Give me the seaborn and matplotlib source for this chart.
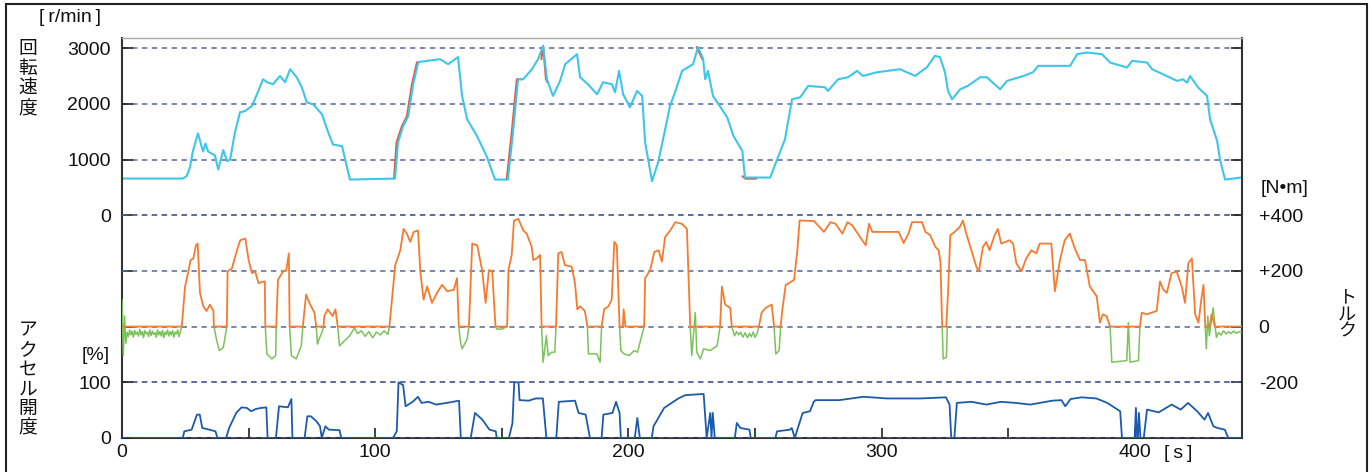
import numpy as np
import pandas as pd
import seaborn as sns
import matplotlib.pyplot as plt
from matplotlib.patches import Rectangle

# engine speed [r/min] (cyan trace)
rpm_t = [0, 24, 25.5, 26.8, 28, 30, 32, 33, 34, 36.7, 38, 40, 41.5, 42.7, 44.6, 46.6, 48.6, 51.3,
         53.3, 55.7, 57.3, 59.6, 62.4, 64.4, 66.4, 69, 71, 73, 75.5, 79, 81, 83.3, 86.9, 90, 107.8,
         109, 111, 113, 115, 117, 120.4, 125.6, 128.8, 132.7, 134.3, 136.3, 140.2, 144, 147.3,
         152.4, 154.4, 156.4, 158.4, 161.9, 164.3, 166.3, 167.8, 170.2, 173, 175, 179.7, 180.9,
         184, 187.6, 190, 193.5, 194.7, 196.3, 197.9, 200.6, 203.4, 205.4, 206.6, 209.3, 211.7,
         214.5, 216.4, 218.4, 221.2, 225.5, 227.5, 229.5, 230.3, 231.4, 233.4, 239, 241.5, 245,
         246, 256, 258.7, 261.8, 264.6, 267.8, 271, 277.6, 278.8, 282.8, 286.7, 290.3, 292.6,
         298.2, 307.3, 313.2, 317.9, 321, 323, 325, 326.2, 327.8, 331, 334, 338.9, 341.5, 346.8,
         349.5, 356, 359.8, 361.8, 374.4, 377.2, 381, 387, 390.2, 396.9, 398.9, 404.8, 406.8,
         411, 416.7, 419, 420.6, 421.8, 425, 428.5, 429.7, 432.5, 433.6, 435.6, 442]
rpm_v = [658, 658, 700, 850, 1150, 1468, 1144, 1288, 1144, 1072, 820, 1168, 970, 1000, 1486, 1847,
         1870, 1960, 2171, 2441, 2387, 2351, 2500, 2387, 2621, 2477, 2297, 2027, 1991, 1810, 1540,
         1270, 1240, 640, 658, 1306, 1595, 1775, 2351, 2748, 2771, 2801, 2711, 2838, 2141, 1721,
         1420, 1060, 640, 640, 1486, 2441, 2441, 2621, 2801, 3041, 2441, 2141, 2411, 2711, 2891,
         2477, 2351, 2171, 2387, 2351, 2207, 2591, 2171, 1937, 2231, 2141, 1306, 609, 946, 1540,
         1960, 2207, 2591, 2711, 3018, 2801, 2441, 2591, 2141, 1757, 1420, 1150, 676, 676, 1000,
         1360, 2081, 2117, 2321, 2297, 2231, 2441, 2477, 2591, 2500, 2567, 2621, 2500, 2657, 2861,
         2838, 2567, 2231, 2081, 2261, 2321, 2477, 2477, 2261, 2411, 2500, 2567, 2681, 2681, 2891,
         2921, 2891, 2741, 2651, 2771, 2741, 2621, 2531, 2411, 2441, 2381, 2500, 2291, 2141, 1721,
         1330, 1000, 640, 676]

# second speed trace (red) - only the bits that show from under the cyan one
red_segs = [
    ([107.4, 108.4, 110.5, 112.5, 114.5, 116.5], [658, 1306, 1595, 1775, 2351, 2748]),
    ([151.9, 153.9, 155.9, 157.8], [640, 1486, 2441, 2441]),
    ([165.6, 166.3, 167.4, 168.1], [2801, 3041, 2441, 2380]),
    ([226.9, 227.6, 229.2], [3018, 2950, 2801]),
    ([245.0, 246.2, 250.5], [700, 655, 655]),
]

# torque [N·m] (orange trace)
trq_t = [0, 23.6, 24.9, 26.2, 27.1, 28.2, 29.2, 29.9, 30.8, 32.1, 33.4, 34.7, 36.1, 36.3, 41.4, 41.7,
         43.4, 45.4, 46.7, 48.7, 50.0, 51.3, 52.6, 53.9, 55.9, 56.4, 56.6, 60.9, 61.6, 63.6, 64.9,
         65.9, 66.2, 71.4, 72.7, 74.0, 76.0, 76.7, 79.6, 79.9, 81.2, 83.2, 84.3, 85.2, 105.6, 106.6,
         107.9, 109.9, 111.2, 112.5, 113.8, 115.2, 116.9, 117.8, 119.1, 120.5, 122.4, 124.4, 126.4,
         128.4, 131.0, 132.3, 133.0, 137.0, 138.3, 140.3, 142.2, 143.6, 144.9, 146.2, 147.5, 152.1,
         152.6, 153.9, 154.8, 156.5, 158.5, 159.8, 161.8, 162.4, 163.8, 165.1, 165.7, 171.4, 172.3,
         173.6, 174.9, 177.6, 178.9, 179.8, 180.9, 182.8, 183.8, 189.4, 190.4, 192.1, 193.4, 194.4,
         195.4, 196.5, 197.8, 198.1, 198.8, 206.2, 206.6, 208.6, 210.2, 211.9, 213.2, 214.5, 216.5,
         218.5, 221.1, 223.1, 224.4, 236.2, 236.9, 238.2, 240.2, 240.8, 251.5, 252.6, 254.2, 256.6,
         257.5, 260.1, 260.8, 262.1, 263.4, 265.4, 266.7, 267.6, 273.3, 277.2, 279.8, 281.8, 284.5,
         286.5, 288.4, 291.0, 293.7, 295.0, 296.3, 301.4, 306.7, 308.7, 310.6, 312.0, 315.9, 317.3,
         319.2, 321.2, 322.5, 323.2, 323.9, 325.5, 326.2, 327.1, 328.8, 330.8, 332.1, 333.4, 335.4,
         337.4, 338.4, 340.0, 341.3, 342.6, 344.6, 345.9, 347.2, 350.5, 351.9, 353.2, 355.2, 357.1,
         359.1, 361.1, 362.4, 367.0, 368.4, 370.4, 372.3, 374.3, 376.3, 378.3, 380.3, 382.2, 384.9,
         386.2, 387.3, 388.8, 390.2, 402.0, 402.7, 404.6, 408.6, 409.9, 411.3, 412.6, 414.5, 416.5,
         418.5, 419.8, 421.1, 422.5, 423.8, 425.1, 426.4, 427.1, 427.8, 429.5, 430.3, 431.6, 442]
trq_v = [0, 0, 144, 198, 239, 245, 292, 298, 121, 73, 56, 79, 56, 0, 0, 198,
         209, 274, 310, 316, 239, 192, 198, 156, 162, 162, 0, 0, 168, 198, 203,
         263, 0, 0, 115, 85, 50, 0, 0, 38, 62, 38, 62, 0, 0, 97,
         221, 274, 351, 334, 304, 340, 345, 198, 97, 144, 85, 121, 150,
         127, 132, 174, 0, 0, 298, 292, 203, 85, 203, 198, 0, 0,
         203, 257, 381, 387, 345, 334, 286, 239, 245, 257, 0, 0, 263,
         268, 221, 215, 156, 62, 73, 56, 0, 0, 62, 73, 97, 304,
         292, 0, 0, 62, 0, 0, 174, 203, 268, 274, 233, 322, 345,
         375, 369, 351, 0, 0, 144, 79, 67, 0, 0, 50, 67, 79,
         0, 0, 62, 150, 156, 168, 274, 381, 379, 340, 375, 369, 334,
         375, 363, 328, 292, 369, 340, 340, 340, 300, 334, 375, 375, 340,
         328, 286, 274, 233, 0, 0, 121, 328, 340, 357, 381, 334, 274,
         215, 198, 286, 304, 274, 328, 351, 298, 310, 298, 227, 198, 245,
         274, 263, 298, 298, 127, 239, 310, 334, 280, 239, 239, 144, 109,
         14, 44, 38, 0, 0, 50, 44, 56, 162, 132, 121, 192, 198,
         144, 85, 227, 245, 44, 14, 109, 150, 0, 0, 44, 0, 0]

# second torque trace (green) - only where it leaves the orange one
green_segs = [
    ([0, 0.5, 1.0, 1.5, 2.0, 2.5, 3.0, 3.5, 4.0, 4.5, 5.0, 5.5, 6.0, 6.5, 7.0, 7.5, 8.0, 8.5, 9.0,
      9.5, 10.0, 10.5, 11.0, 11.5, 12.0, 12.5, 13.0, 13.5, 14.0, 14.5, 15.0, 15.5, 16.0, 16.5, 17.0,
      17.5, 18.0, 18.5, 19.0, 19.5, 20.0, 20.5, 21.0, 21.5, 22.0, 22.5, 23.0, 23.6],
     [97, -104, 38, -60, -20, -36, -12, -30, -16, -38, -14, -28, -20, -34, -10, -30, -18, -40, -14,
      -26, -20, -36, -12, -32, -16, -28, -22, -38, -12, -30, -18, -34, -14, -40, -20, -28, -12, -34,
      -18, -30, -14, -38, -20, -26, -12, -36, -20, 0]),
    ([36.3, 37.3, 38.4, 40, 41.4], [0, -45, -86, -75, 0]),
    ([56.6, 57.2, 59.2, 60.7, 60.9], [0, -98, -116, -104, 0]),
    ([66.2, 66.9, 68.8, 70.8, 71.4], [0, -104, -116, -69, 0]),
    ([76.7, 77.2, 77.6, 79.0, 79.6], [0, -63, -50, -20, 0]),
    ([85.2, 85.9, 87.2, 89.9, 91.8, 93, 94.5, 96, 97.5, 99, 100.5, 102, 103.5, 105, 105.6],
     [0, -69, -57, -33, -5, -25, -15, -35, -18, -40, -20, -30, -15, -28, 0]),
    ([133.0, 133.7, 134.3, 136.3, 137.0], [0, -57, -80, -45, 0]),
    ([147.5, 148, 150, 152.1], [0, -9, -9, 0]),
    ([165.7, 166.3, 167.6, 168.3, 169.6, 170.9, 171.4], [0, -128, -33, -104, -92, -92, 0]),
    ([183.8, 184.2, 187.5, 188.8, 189.4], [0, -98, -98, -128, 0]),
    ([196.5, 197, 198.3, 200.3, 202.3, 203.6, 204.9, 205.6, 206.2], [0, -86, -98, -104, -86, -92, -45, -21, 0]),
    ([224.4, 225, 226.4, 227, 228.4, 229.7, 232.3, 235, 236.2], [0, -104, 50, -92, -116, -80, -86, -69, 0]),
    ([240.8, 241.9, 242.7, 243.5, 244.3, 245.2, 246.1, 247, 247.8, 248.5, 249.3, 250, 250.8, 251.5],
     [0, -33, -18, -30, -20, -38, -22, -40, -24, -36, -20, -39, -25, 0]),
    ([257.5, 258.2, 259.5, 260.1], [0, -98, -86, 0]),
    ([323.9, 324.3, 325.6, 325.9], [0, -116, -110, 0]),
    ([390.2, 390.9, 396.8, 397.4, 398.1, 401.4, 402.0], [0, -128, -122, 14, -128, -122, 0]),
    ([427.8, 428.2, 428.8, 429.4, 430.9, 432.2, 433, 434, 435, 436, 437, 438, 439, 440, 441, 442],
     [0, -80, 38, -33, 67, -39, -21, -30, -15, -26, -18, -25, -16, -24, -19, -21]),
]

# accelerator opening [%] (blue trace)
acc_t = [0, 24, 24.6, 27.5, 29.6, 30.7, 31.7, 34.5, 36.9, 37.7, 41.1, 42.3, 45.1, 47.2, 49.3, 51, 52.8,
         54.9, 57, 57.5, 60.8, 62, 65.5, 66.9, 67.3, 72.1, 73.2, 74.6, 76.8, 78.2, 78.9, 80.3, 81.7,
         85.9, 86.6, 107, 108.5, 109.2, 111, 112, 114.8, 116.9, 118.3, 121.1, 124, 128.2, 133.1,
         133.8, 137.7, 139.4, 142.3, 145.1, 147.6, 148, 152.8, 154.2, 154.9, 156.6, 157, 160.6,
         163.4, 166.2, 167.6, 171.5, 172.5, 178.9, 180.3, 183.1, 184.8, 189.4, 190.1, 193.7, 195.1,
         196.5, 197, 202.5, 203.5, 204.5, 209.2, 209.9, 214.1, 219.7, 222.5, 229.7, 230.9, 232.3,
         232.8, 233.3, 234.1, 242, 242.8, 244.2, 247.8, 248.3, 258, 258.7, 263.8, 264.5, 265.7,
         266.7, 268.8, 271.7, 273.2, 273.9, 283.3, 292.8, 302.2, 315.2, 325.4, 326.8, 327.5, 328.7,
         329.7, 335.5, 341.3, 347.1, 352.9, 358.7, 367.4, 371, 372.5, 374.6, 379, 384.8, 389.1,
         394.2, 394.9, 399.9, 400.4, 400.9, 401.2, 401.6, 402.2, 403.5, 404.8, 409.4, 414.5, 418.1,
         421, 424.6, 427.5, 428.9, 431, 432.6, 435.5, 436.9, 442]
acc_v = [0, 0, 12, 15, 42, 42, 18, 15, 12, 0, 0, 18, 45, 55, 54, 48, 52,
         54, 55, 0, 0, 57, 55, 70, 0, 0, 39, 39, 30, 21, 0, 21, 15,
         14, 0, 0, 12, 100, 95, 57, 65, 74, 63, 65, 60, 63, 67,
         0, 0, 45, 33, 15, 12, 0, 0, 27, 100, 100, 68, 67,
         71, 71, 0, 0, 65, 67, 45, 42, 0, 0, 42, 45, 65,
         45, 0, 0, 36, 0, 0, 21, 54, 71, 77, 79, 0, 45,
         0, 45, 0, 0, 27, 18, 15, 0, 0, 12, 15, 18, 0,
         15, 45, 48, 65, 68, 68, 74, 71, 71, 73, 60, 0, 0,
         63, 65, 60, 65, 63, 60, 67, 68, 57, 70, 73, 71, 63,
         48, 0, 0, 54, 0, 0, 45, 0, 0, 51, 46, 60, 51,
         63, 48, 33, 45, 21, 18, 15, 0, 0]

x_major = [0, 100, 200, 300, 400]
x_minor = [50, 150, 250, 350]
rpm_ticks = [0, 1000, 2000, 3000]
trq_ticks = [-200, 0, 200, 400]
trq_labels = ['-200', '0', '+200', '+400']
acc_ticks = [0, 100]

sns.set_theme(style='white')
plt.rcParams['font.family'] = ['Liberation Sans', 'Noto Sans CJK JP', 'DejaVu Sans']

fig = plt.figure(figsize=(13.72, 4.72), dpi=100)
ax = fig.add_axes([122 / 1372, 34 / 472, 1120 / 1372, 400 / 472])
ax_t = ax.twinx()
ax_a = ax.twinx()

# every band is 55.7 px high: accel 0-100, torque -200..400, rpm 0..3000
units = 400 / 55.7
ax.set_ylim(-4000, -4000 + units * 1000)
ax_t.set_ylim(-400, -400 + units * 200)
ax_a.set_ylim(0, units * 100)
ax.set_xlim(0, 442.3)

grid_kw = dict(color='#5566a0', lw=1.1, ls=(0, (3.5, 3)))

# speed
for tt, vv in red_segs:
    sns.lineplot(x=tt, y=vv, ax=ax, color='#e8553a', lw=1.4, estimator=None, sort=False)
sns.lineplot(x=rpm_t, y=rpm_v, ax=ax, color='#3ec5ea', lw=1.5, estimator=None, sort=False)

# torque
for tt, vv in green_segs:
    sns.lineplot(x=tt, y=vv, ax=ax_t, color='#7cc25a', lw=1.1, estimator=None, sort=False)
sns.lineplot(x=trq_t, y=trq_v, ax=ax_t, color='#f47b30', lw=1.3, estimator=None, sort=False)

# accelerator
sns.lineplot(x=acc_t, y=acc_v, ax=ax_a, color='#1c5baa', lw=1.3, estimator=None, sort=False)

for a in (ax, ax_t, ax_a):
    a.set_xlabel('')
    a.set_ylabel('')

ax.set_yticks(rpm_ticks)
ax.set_yticks([-2000, -1000], minor=True)
ax.yaxis.grid(True, which='major', **grid_kw)
ax_t.set_yticks(trq_ticks, labels=trq_labels)
ax_t.set_yticks([600, 800, 1000], minor=True)
ax_t.yaxis.grid(True, which='major', **grid_kw)
ax_a.yaxis.tick_left()
ax_a.set_yticks(acc_ticks)
ax_a.yaxis.grid(True, which='major', **grid_kw)
for a in (ax, ax_t, ax_a):
    a.set_axisbelow(True)

ax.set_xticks(x_major)
ax.set_xticks(x_minor, minor=True)
ax.tick_params(axis='x', which='both', direction='in', length=7, width=1.2, color='#222222',
               labelsize=14, pad=4, bottom=True, top=False, labelcolor='#111111')
ax.tick_params(axis='y', which='both', direction='in', length=8, width=1.2, color='#222222',
               labelsize=14, pad=8, left=True, right=False, labelcolor='#111111')
ax_a.tick_params(axis='y', which='both', direction='in', length=8, width=1.2, color='#222222',
                 labelsize=14, pad=8, left=True, right=False, labelleft=True, labelright=False,
                 labelcolor='#111111')
ax_t.tick_params(axis='y', which='both', direction='in', length=8, width=1.2, color='#222222',
                 labelsize=14, pad=12, left=False, right=True, labelcolor='#111111')

for a in (ax_t, ax_a):
    for s in a.spines.values():
        s.set_visible(False)
ax.spines['top'].set_color('#aaaaaa')
ax.spines['top'].set_linewidth(1.0)
for side in ('left', 'right', 'bottom'):
    ax.spines[side].set_color('#333333')
    ax.spines[side].set_linewidth(1.5)

# axis captions
txt = dict(ha='center', va='center', color='#111111', fontsize=14)
fig.text(70 / 1372, 1 - 18 / 472, '[\u2009r/min\u2009]', **txt)
fig.text(28 / 1372, 1 - 80 / 472, '回\n転\n速\n度', fontsize=13.5, linespacing=1.22,
         ha='center', va='center', color='#111111')
fig.text(28 / 1372, 1 - 380 / 472, 'ア\nク\nセ\nル\n開\n度', fontsize=13.5, linespacing=1.2,
         ha='center', va='center', color='#111111')
fig.text(96 / 1372, 1 - 355 / 472, '[%]', **txt)
fig.text(1285 / 1372, 1 - 189 / 472, '[N•m]', **txt)
fig.text(1178 / 1372, 1 - 453 / 472, '[\u2009s\u2009]', **txt)
fig.text(1347 / 1372, 1 - 315 / 472, 'ト\nル\nク', ha='center', va='center', color='#111111',
         fontsize=13, linespacing=1.0)

# outer frame
fig.add_artist(Rectangle((6 / 1372, -0.05), 1361 / 1372, 1 - 4 / 472 + 0.05,
                         transform=fig.transFigure, fill=False, lw=1.5, ec='#222222'))

fig.savefig('out.png', dpi=100)
